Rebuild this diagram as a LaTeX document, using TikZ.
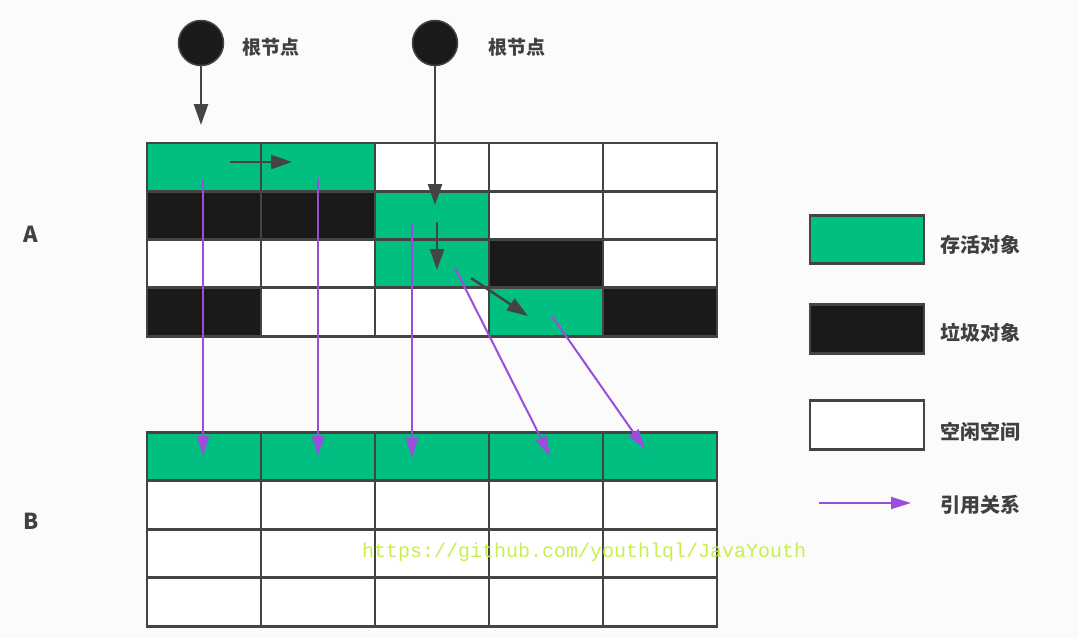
\documentclass[tikz,border=0pt]{standalone}
\usepackage{fontspec}
\newfontfamily\cjk{Noto Sans CJK SC}
\newfontfamily\wmfont{Liberation Mono}
\usetikzlibrary{arrows.meta}
\definecolor{alive}{HTML}{00BF80}
\definecolor{garbage}{HTML}{1A1A1A}
\definecolor{gridline}{HTML}{444444}
\definecolor{refline}{HTML}{9B4DDB}
\definecolor{textgray}{HTML}{404040}
\definecolor{urlgreen}{HTML}{C8EE50}
\definecolor{bg}{HTML}{FBFBFB}
\tikzset{
  cell/.style={rectangle,draw=gridline,line width=2.8pt,minimum width=114pt,
    minimum height=48.5pt,inner sep=0pt,outer sep=0pt},
  root/.style={circle,fill=garbage,draw=gridline,line width=1.5pt,minimum size=45pt,inner sep=0pt},
  lbl/.style={font=\cjk\bfseries\fontsize{19}{19}\selectfont,text=textgray,anchor=west,inner sep=0pt},
  ptr/.style={draw=gridline,line width=2.5pt,-{Triangle[length=21pt 0,width=14pt 0]}},
  ref/.style={draw=refline,line width=2pt,-{Triangle[length=20pt 0,width=12pt 0]}}
}
\begin{document}
\begin{tikzpicture}[x=1pt,y=-1pt]
  \path[fill=bg] (0,0) rectangle (1078,638);
  \useasboundingbox (0,0) rectangle (1078,638);

  % heap A before collection
  \foreach \row [count=\r from 0] in {{alive,alive,white,white,white},
      {garbage,garbage,alive,white,white},{white,white,alive,garbage,white},
      {garbage,white,white,alive,garbage}}
    \foreach \col [count=\k from 0] in \row
      \node[cell,fill=\col] (a-\r-\k) at ({204+114*\k},{167.25+48.25*\r}) {};

  % heap B after copying
  \foreach \r/\col in {0/alive,1/white,2/white,3/white}
    \foreach \k in {0,...,4}
      \node[cell,fill=\col] (b-\r-\k) at ({204+114*\k},{456.5+48.5*\r}) {};

  \node[font=\cjk\bfseries\fontsize{22}{22}\selectfont,text=textgray] (lA) at (31,234) {A};
  \node[font=\cjk\bfseries\fontsize{22}{22}\selectfont,text=textgray] (lB) at (31,521) {B};

  % roots
  \node[root] (r1) at (201,43) {};
  \node[root] (r2) at (435,43) {};
  \node[lbl] (r1l) at (242,47) {根节点};
  \node[lbl] (r2l) at (488,47) {根节点};

  \coordinate (t1) at (201,125);
  \coordinate (t2) at (435,205);
  \coordinate (p1s) at (230,162);
  \coordinate (p1e) at (292,162);
  \coordinate (p2s) at (437,222);
  \coordinate (p2e) at (437,270);
  \coordinate (p3s) at (471,278);
  \coordinate (p3e) at (528,316);

  \begin{scope}[every path/.style={ptr}]
    \path (r1) -- (t1);
    \path (r2) -- (t2);
    \path (p1s) -- (p1e);
    \path (p2s) -- (p2e);
    \path (p3s) -- (p3e);
  \end{scope}

  % references from A to B
  \coordinate (q1s) at (203,180);
  \coordinate (q1e) at (203,456);
  \coordinate (q2s) at (318,178);
  \coordinate (q2e) at (318,456);
  \coordinate (q3s) at (412,223);
  \coordinate (q3e) at (412,458);
  \coordinate (q4s) at (455,268);
  \coordinate (q4e) at (550,456);
  \coordinate (q5s) at (552,316);
  \coordinate (q5e) at (645,449);
  \begin{scope}[every path/.style={ref}]
    \path (q1s) -- (q1e);
    \path (q2s) -- (q2e);
    \path (q3s) -- (q3e);
    \path (q4s) -- (q4e);
    \path (q5s) -- (q5e);
  \end{scope}

  % legend
  \node[cell,fill=alive] (k1) at (867,239.5) {};
  \node[cell,fill=garbage] (k2) at (867,329) {};
  \node[cell,fill=white] (k3) at (867,425) {};
  \coordinate (k4s) at (819,503);
  \coordinate (k4e) at (911,503);
  \path[ref] (k4s) -- (k4e);
  \begin{scope}[every node/.style={lbl,font=\cjk\bfseries\fontsize{20}{20}\selectfont}]
    \node (k1l) at (940,245) {存活对象};
    \node (k2l) at (940,333) {垃圾对象};
    \node (k3l) at (940,432) {空闲空间};
    \node (k4l) at (940,505) {引用关系};
  \end{scope}

  \node[font=\wmfont\fontsize{20}{20}\selectfont,text=urlgreen,anchor=west,inner sep=0pt]
    (url) at (362,552) {https://github.com/youthlql/JavaYouth};
\end{tikzpicture}
\end{document}
